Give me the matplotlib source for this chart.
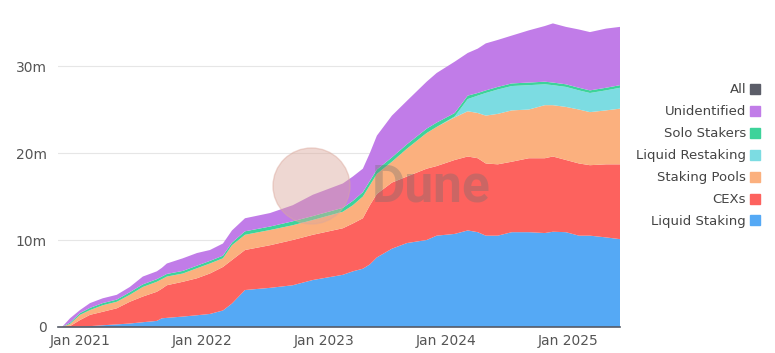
import numpy as np
import matplotlib.pyplot as plt
import matplotlib.dates as mdates
import pandas as pd
from matplotlib.lines import Line2D
from matplotlib.patches import Ellipse

# === data (values in millions of ETH) ===
dates = pd.to_datetime([
    '2020-11-08', '2020-12-02', '2021-01-01', '2021-01-31', '2021-03-10', '2021-04-21',
    '2021-05-30', '2021-07-08', '2021-08-19', '2021-09-03', '2021-09-18', '2021-11-05',
    '2021-12-17', '2022-01-25', '2022-03-05', '2022-04-01', '2022-05-10', '2022-07-24',
    '2022-09-30', '2022-11-29', '2023-02-27', '2023-03-29', '2023-04-28', '2023-05-19',
    '2023-06-09', '2023-07-24', '2023-09-07', '2023-11-05', '2023-12-05', '2024-01-28',
    '2024-03-07', '2024-04-06', '2024-04-30', '2024-06-05', '2024-07-17', '2024-09-06',
    '2024-10-24', '2024-11-17', '2024-12-26', '2025-02-03', '2025-03-08', '2025-04-25',
    '2025-06-06',
])

liquid_staking = [0, 0, 0.05, 0.1, 0.2, 0.3, 0.4, 0.55, 0.7, 1.0, 1.05, 1.2, 1.35, 1.5,
                  1.9, 2.7, 4.25, 4.5, 4.8, 5.4, 6.0, 6.4, 6.7, 7.2, 8.0, 9.0, 9.65, 10.0,
                  10.5, 10.7, 11.1, 10.9, 10.5, 10.5, 10.9, 10.9, 10.8, 10.95, 10.9, 10.5,
                  10.5, 10.3, 10.1]
cexs = [0, 0.1, 0.75, 1.3, 1.55, 1.85, 2.5, 2.95, 3.35, 3.4, 3.75, 4.0, 4.25, 4.65,
        5.0, 5.0, 4.6, 4.9, 5.2, 5.2, 5.35, 5.5, 5.8, 6.8, 7.3, 7.6, 7.65, 8.2,
        8.0, 8.5, 8.5, 8.5, 8.3, 8.2, 8.1, 8.5, 8.6, 8.65, 8.3, 8.3, 8.1, 8.4, 8.6]
staking_pools = [0, 0.25, 0.6, 0.55, 0.75, 0.75, 0.8, 1.1, 1.15, 1.1, 1.0, 0.95, 1.15, 1.15,
                 1.0, 1.7, 1.75, 1.75, 1.7, 1.7, 1.9, 2.1, 2.5, 2.3, 2.3, 2.4, 3.2, 4.1,
                 4.5, 4.9, 5.2, 5.2, 5.5, 5.8, 5.9, 5.6, 6.1, 5.9, 6.1, 6.2, 6.1, 6.2, 6.4]
liquid_restaking = [0] * 29 + [0.1, 1.4, 2.0, 2.6, 2.8, 2.8, 2.8, 2.4, 2.3, 2.3, 2.2, 2.2, 2.3, 2.4]
solo_stakers = [0, 0.15, 0.2, 0.25, 0.25, 0.25, 0.3, 0.3, 0.3, 0.3, 0.3, 0.3, 0.3, 0.3,
                0.3, 0.3, 0.4, 0.4, 0.45, 0.45, 0.45, 0.5, 0.5, 0.5, 0.5, 0.5, 0.5, 0.5,
                0.5, 0.4, 0.4, 0.3, 0.3, 0.3, 0.3, 0.3, 0.3, 0.3, 0.3, 0.3, 0.3, 0.3, 0.3]
unidentified = [0, 0.5, 0.35, 0.55, 0.55, 0.55, 0.6, 0.9, 0.9, 1.0, 1.2, 1.45, 1.45, 1.25,
                1.4, 1.4, 1.5, 1.55, 1.85, 2.45, 2.8, 2.8, 2.7, 3.2, 3.9, 4.8, 5.0, 5.4,
                5.7, 5.9, 4.9, 5.1, 5.4, 5.4, 5.5, 6.0, 6.4, 6.8, 6.6, 6.7, 6.7, 6.8, 6.7]

labels = ['Liquid Staking', 'CEXs', 'Staking Pools', 'Liquid Restaking',
          'Solo Stakers', 'Unidentified']
colors = ['#55a9f5', '#fd625e', '#fbb07e', '#7cdce2', '#3dd39a', '#c17ce8']
all_color = '#5b5d68'

# === plot ===
fig = plt.figure(figsize=(7.75, 3.53), dpi=100)
ax = fig.add_axes([58/775, 1 - 327/353, (620 - 58)/775, 317/353])

ax.stackplot(dates, liquid_staking, cexs, staking_pools, liquid_restaking,
             solo_stakers, unidentified, colors=colors, linewidth=0)

ax.set_xlim(pd.Timestamp('2020-10-27'), pd.Timestamp('2025-06-06'))
ax.set_ylim(0, 36.44)
ax.set_yticks([0, 10, 20, 30])
ax.set_yticklabels(['0', '10m', '20m', '30m'])
ax.xaxis.set_major_locator(mdates.YearLocator())
ax.xaxis.set_major_formatter(mdates.DateFormatter('Jan %Y'))

ax.grid(axis='y', color='#e6e6e6', linewidth=0.8)
ax.set_axisbelow(True)
for s in ['top', 'right', 'left']:
    ax.spines[s].set_visible(False)
ax.spines['bottom'].set_color('#555a66')
ax.spines['bottom'].set_linewidth(1.2)
ax.tick_params(axis='both', length=0, labelsize=10, colors='#555555')
ax.tick_params(axis='y', pad=8)
ax.tick_params(axis='x', pad=5)

# watermark
fig.patches.append(Ellipse((311.5/775, 1 - 186/353), 77/775, 76/353,
                           transform=fig.transFigure, color='#dba89c', alpha=0.45,
                           zorder=5))
fig.text(431/775, 1 - 187/353, 'Dune', fontsize=37, fontweight='bold', family='Roboto',
         color='#707070', alpha=0.35, ha='center', va='center', zorder=6)

# legend (marker after label)
handles = [Line2D([], [], marker='s', linestyle='', markersize=7.5,
                  markerfacecolor=c, markeredgecolor=c)
           for c in [all_color] + colors[::-1]]
ax.legend(handles, ['All'] + labels[::-1], loc='upper right',
          bbox_to_anchor=(766/775, 1 - 78/353), bbox_transform=fig.transFigure,
          markerfirst=False, frameon=False, fontsize=9.5, labelcolor='#444444',
          handletextpad=0.3, labelspacing=0.68, borderaxespad=0, handlelength=0.8)

fig.savefig('out.png', dpi=100)
